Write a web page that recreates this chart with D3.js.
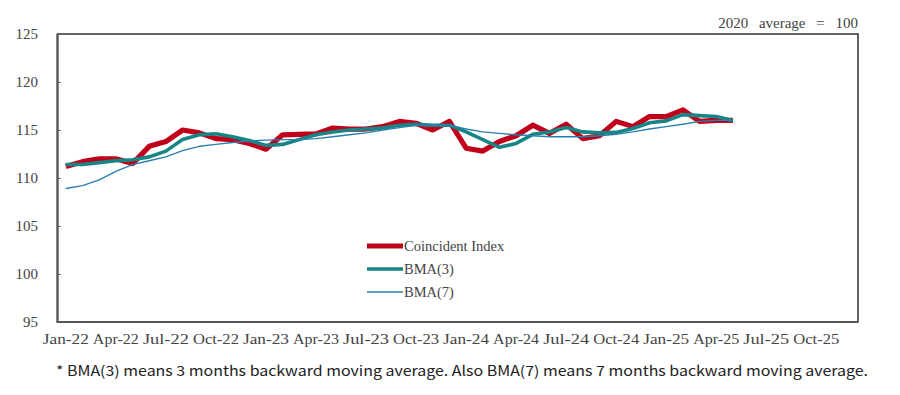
<!DOCTYPE html>
<html><head><meta charset="utf-8">
<script src="https://cdn.jsdelivr.net/npm/d3@7"></script>
<style>body{margin:0;background:#fff}svg{display:block}
text.sf{font-family:"Liberation Serif","DejaVu Serif",serif;fill:#444}</style>
</head><body><svg id="c" width="900" height="395"></svg>
<script>
const months = ["Jan-22","Feb-22","Mar-22","Apr-22","May-22","Jun-22","Jul-22","Aug-22","Sep-22","Oct-22","Nov-22","Dec-22",
"Jan-23","Feb-23","Mar-23","Apr-23","May-23","Jun-23","Jul-23","Aug-23","Sep-23","Oct-23","Nov-23","Dec-23",
"Jan-24","Feb-24","Mar-24","Apr-24","May-24","Jun-24","Jul-24","Aug-24","Sep-24","Oct-24","Nov-24","Dec-24",
"Jan-25","Feb-25","Mar-25","Apr-25","May-25","Jun-25","Jul-25","Aug-25","Sep-25","Oct-25","Nov-25","Dec-25"];
const tickLabels = ["Jan-22","Apr-22","Jul-22","Oct-22","Jan-23","Apr-23","Jul-23","Oct-23","Jan-24","Apr-24","Jul-24","Oct-24","Jan-25","Apr-25","Jul-25","Oct-25"];
const yTicks = [95,100,105,110,115,120,125];
const coincident = [111.2,111.7,112.0,112.0,111.5,113.3,113.8,115.0,114.7,114.1,114.0,113.6,
113.0,114.5,114.55,114.6,115.2,115.1,115.1,115.35,115.9,115.7,115.0,115.9,
113.1,112.8,113.8,114.4,115.5,114.65,115.6,114.1,114.4,115.9,115.35,116.4,
116.4,117.1,115.9,116.0,116.0];
const bma3 = [111.4,111.4,111.6,111.8,111.9,112.2,112.8,114.0,114.5,114.6,114.3,113.9,
113.4,113.5,114.0,114.5,114.8,115.0,115.1,115.2,115.5,115.6,115.5,115.5,
114.8,114.0,113.2,113.6,114.55,114.8,115.25,114.8,114.7,114.75,115.15,115.75,
115.95,116.6,116.5,116.4,116.0];
const bma7 = [108.9,109.2,109.8,110.7,111.4,111.8,112.2,112.85,113.3,113.5,113.7,113.85,
113.95,114.0,114.0,114.1,114.3,114.5,114.7,115.0,115.25,115.5,115.5,115.5,
115.1,114.8,114.65,114.5,114.4,114.3,114.3,114.3,114.4,114.55,114.8,115.1,
115.35,115.6,115.9,116.0,116.0];
const seriesNames = ["Coincident Index","BMA(3)","BMA(7)"];

const svg = d3.select("#c");
const L=57.5, R=858, T=34, B=322;
const x = d3.scaleBand().domain(months).range([L,R]).padding(0);
const y = d3.scaleLinear().domain([95,125]).range([B,T]);
const cx = m => x(m)+x.bandwidth()/2;

// frame
svg.append("rect").attr("x",L).attr("y",T).attr("width",R-L).attr("height",B-T)
  .attr("fill","none").attr("stroke","#111").attr("stroke-width",1.3);
svg.append("path").attr("d",`M${L},${T}V${B}H${R}`).attr("fill","none").attr("stroke","#555").attr("stroke-width",2.2);

// y axis: inner tick marks from d3 axis, labels as own serif text
const ya = svg.append("g").attr("transform",`translate(${L},0)`)
  .call(d3.axisLeft(y).tickValues(yTicks).tickSize(-3).tickFormat(""));
ya.select(".domain").remove();
ya.selectAll("line").attr("stroke","#555");
svg.append("g").selectAll("text").data(yTicks).join("text")
  .attr("class","sf").attr("x",38).attr("y",d=>y(d)+5).attr("text-anchor","end")
  .style("font-size","15px").text(d=>d);

// x axis labels
svg.append("g").selectAll("text").data(tickLabels).join("text")
  .attr("class","sf").attr("x",d=>cx(d)).attr("y",B+22).attr("text-anchor","middle")
  .style("font-size","14.5px").attr("textLength",46).attr("lengthAdjust","spacingAndGlyphs")
  .text(d=>d);

const line = d3.line().x((d,i)=>cx(months[i])).y(d=>y(d));
const styles = [
  {data:coincident, color:"#c0001a", w:5.2},
  {data:bma3, color:"#178585", w:3.6},
  {data:bma7, color:"#2a7fad", w:1.4}
];
styles.forEach(s=>{
  svg.append("path").datum(s.data).attr("d",line).attr("fill","none")
    .attr("stroke",s.color).attr("stroke-width",s.w).attr("stroke-linejoin","round");
});

// legend
seriesNames.forEach((n,i)=>{
  const yy = 246 + i*23;
  svg.append("line").attr("x1",367).attr("x2",403).attr("y1",yy).attr("y2",yy)
    .attr("stroke",styles[i].color).attr("stroke-width",styles[i].w);
  svg.append("text").attr("class","sf").attr("x",404).attr("y",yy+5).text(n)
    .style("font-size","14.5px");
});

svg.append("text").attr("class","sf").attr("x",858).attr("y",28).attr("text-anchor","end")
  .style("font-size","15px").style("word-spacing","7px")
  .text("2020 average = 100");

svg.append("text").attr("x",56).attr("y",376)
  .style("font-family","'Noto Sans CJK JP','Noto Sans',sans-serif").style("font-size","14px").attr("fill","#222")
  .attr("textLength",812).attr("lengthAdjust","spacingAndGlyphs")
  .text("* BMA(3) means 3 months backward moving average. Also BMA(7) means 7 months backward moving average.");
</script></body></html>
